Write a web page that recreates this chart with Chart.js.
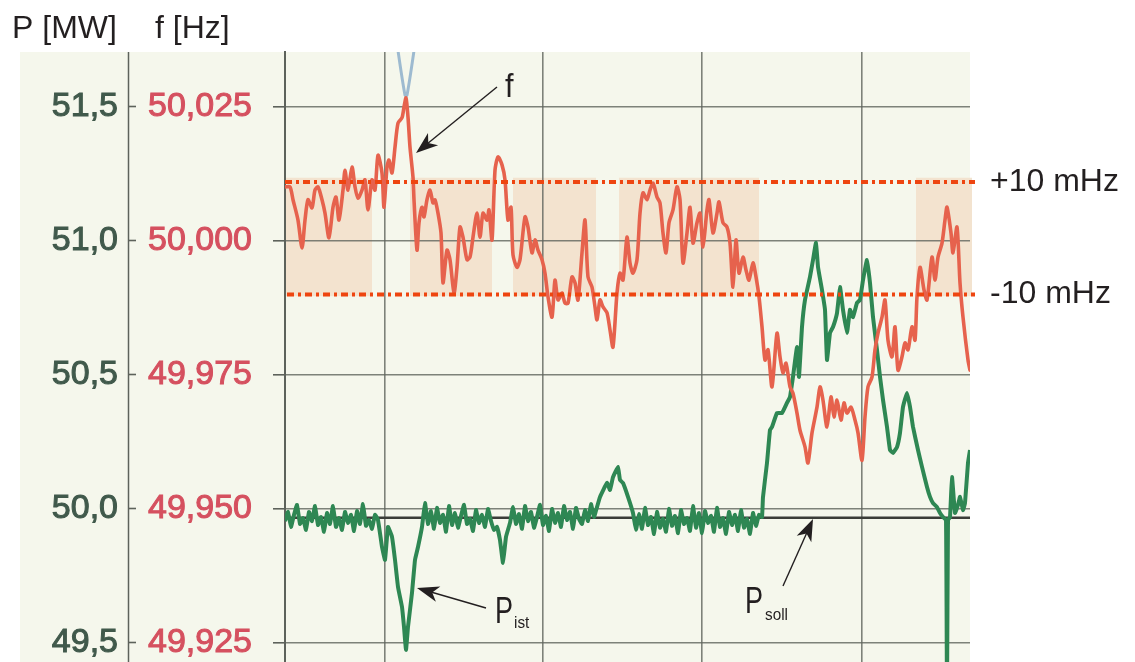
<!DOCTYPE html>
<html>
<head>
<meta charset="utf-8">
<script src="https://cdn.jsdelivr.net/npm/chart.js@4.4.1/dist/chart.umd.min.js"></script>
<style>
  html, body { margin: 0; padding: 0; background: #ffffff; }
  #wrap { width: 1135px; height: 662px; }
</style>
</head>
<body>
<div id="wrap"><canvas id="c" width="1135" height="662"></canvas></div>
<script>
// ---------- data (time in chart units, f in Hz, P in MW) ----------
const freqTrace = [[0,50.0101],[5,50.0101],[8,50.0077],[13,50.0039],[17,49.9987],[20,50.0039],[23,50.0077],[27,50.0062],[30,50.0095],[33,50.0101],[37,50.0077],[40,50.0052],[44,50.0006],[48,50.0063],[51,50.0082],[54,50.0039],[58,50.0095],[60,50.0132],[63,50.0095],[67,50.0138],[70,50.0101],[73,50.0080],[77,50.0095],[80,50.0114],[83,50.0058],[87,50.0114],[90,50.0095],[93,50.0160],[97,50.0127],[99,50.0063],[102,50.0138],[104,50.0151],[107,50.0127],[110,50.0175],[113,50.0220],[117,50.0230],[119,50.0250],[121,50.0267],[123,50.0231],[125,50.0175],[128,50.0119],[129,50.0077],[132,49.9983],[134,50.0034],[137,50.0063],[139,50.0045],[142,50.0077],[145,50.0095],[148,50.0071],[150,50.0077],[153,50.0052],[156,50.0015],[158,49.9922],[162,49.9983],[165,49.9965],[169,49.9903],[172,49.9951],[175,50.0026],[178,50.0007],[182,49.9965],[185,49.9970],[188,50.0007],[192,50.0052],[195,50.0007],[198,50.0052],[202,50.0039],[204,50.0058],[207,50.0002],[210,50.0132],[213,50.0157],[217,50.0142],[220,50.0114],[223,50.0039],[226,50.0063],[228,49.9974],[232,49.9951],[235,49.9965],[240,50.0045],[243,50.0026],[247,49.9978],[250,50.0002],[253,49.9983],[257,49.9965],[260,49.9940],[263,49.9896],[267,49.9858],[270,49.9927],[273,49.9890],[277,49.9903],[280,49.9884],[283,49.9884],[287,49.9933],[290,49.9922],[293,49.9890],[297,49.9978],[300,50.0039],[303,49.9933],[307,49.9914],[310,49.9877],[312,49.9853],[315,49.9890],[318,49.9877],[322,49.9866],[325,49.9834],[328,49.9802],[332,49.9903],[335,49.9940],[338,49.9927],[342,50.0007],[345,49.9959],[348,49.9940],[352,49.9965],[355,50.0052],[358,50.0090],[362,50.0077],[365,50.0095],[368,50.0108],[372,50.0082],[375,50.0071],[378,50.0015],[381,49.9978],[384,50.0034],[388,50.0058],[392,50.0101],[395,50.0077],[398,49.9959],[402,50.0015],[405,50.0063],[408,49.9996],[412,50.0034],[415,50.0052],[418,49.9989],[422,50.0058],[424,50.0077],[428,50.0015],[432,50.0052],[434,50.0073],[438,50.0034],[442,50.0026],[445,49.9996],[448,49.9914],[451,50.0002],[454,49.9940],[458,49.9970],[461,49.9946],[464,49.9927],[468,49.9959],[471,49.9933],[474,49.9896],[477,49.9840],[480,49.9778],[483,49.9797],[487,49.9728],[492,49.9828],[495,49.9784],[498,49.9754],[501,49.9772],[505,49.9728],[508,49.9716],[512,49.9679],[515,49.9647],[520,49.9616],[523,49.9586],[527,49.9642],[532,49.9690],[535,49.9728],[538,49.9703],[542,49.9653],[546,49.9709],[549,49.9672],[552,49.9703],[556,49.9666],[559,49.9698],[562,49.9679],[566,49.9690],[570,49.9666],[573,49.9642],[577,49.9591],[580,49.9672],[583,49.9728],[587,49.9746],[590,49.9797],[593,49.9828],[597,49.9858],[600,49.9890],[603,49.9815],[607,49.9784],[610,49.9840],[613,49.9759],[617,49.9784],[620,49.9810],[623,49.9797],[627,49.9840],[630,49.9815],[632,49.9896],[635,49.9951],[639,49.9909],[642,49.9890],[647,49.9970],[650,49.9927],[653,49.9970],[657,49.9996],[660,50.0039],[662,50.0063],[666,50.0015],[668,49.9978],[672,50.0026],[675,49.9922],[678,49.9858],[683,49.9778],[685,49.9759]];

const powerTrace = [[0,49.955],[3,49.989],[6,49.933],[9,49.978],[12,50.015],[15,49.944],[18,49.966],[21,49.922],[24,49.989],[27,49.955],[30,50.011],[33,49.940],[36,49.970],[39,49.915],[42,49.985],[45,49.944],[48,50.011],[51,49.933],[54,49.966],[57,49.922],[60,49.989],[63,49.948],[66,49.978],[69,49.918],[72,49.992],[75,49.944],[78,50.018],[81,49.937],[84,49.959],[87,49.926],[90,49.978],[93,49.959],[97,49.858],[100,49.810],[103,49.933],[107,49.896],[110,49.810],[113,49.709],[117,49.634],[119,49.560],[121,49.474],[123,49.560],[127,49.687],[130,49.810],[133,49.858],[137,49.933],[140,50.022],[143,49.944],[146,49.992],[149,49.926],[152,50.004],[155,49.948],[158,49.978],[161,49.915],[164,50.011],[167,49.940],[170,49.985],[173,49.930],[176,49.974],[179,50.015],[182,49.944],[185,49.963],[188,49.918],[191,49.996],[194,49.948],[197,49.978],[200,49.933],[203,50.000],[206,49.955],[209,49.922],[212,49.933],[215,49.884],[218,49.799],[221,49.896],[225,49.948],[228,50.007],[231,49.944],[234,49.981],[237,49.926],[240,50.011],[243,49.955],[246,49.989],[249,49.930],[252,49.970],[255,50.015],[258,49.940],[261,49.974],[264,49.918],[267,50.000],[270,49.948],[273,49.985],[276,49.933],[279,50.011],[282,49.959],[285,49.989],[288,49.926],[291,50.004],[294,49.963],[297,49.944],[300,49.996],[303,49.955],[306,50.018],[309,49.970],[312,50.007],[315,50.045],[322,50.097],[325,50.071],[328,50.119],[333,50.157],[335,50.108],[338,50.097],[343,50.045],[348,49.985],[351,49.922],[354,49.981],[357,49.926],[360,50.004],[363,49.940],[366,49.970],[369,49.907],[372,49.989],[375,49.930],[378,49.963],[381,49.915],[384,50.000],[387,49.937],[390,49.974],[393,49.910],[396,49.996],[399,49.944],[402,49.966],[405,49.918],[408,50.011],[411,49.930],[414,49.985],[417,49.910],[420,49.992],[423,49.948],[426,49.974],[429,49.915],[432,50.004],[435,49.933],[438,49.966],[441,49.907],[444,49.989],[447,49.940],[450,49.978],[453,49.918],[456,49.996],[459,49.930],[462,49.963],[465,49.907],[468,49.985],[471,49.937],[474,49.978],[477,49.970],[478,50.045],[482,50.172],[485,50.295],[487,50.306],[492,50.358],[497,50.358],[502,50.396],[505,50.418],[508,50.493],[512,50.604],[514,50.493],[517,50.679],[520,50.780],[525,50.866],[528,50.929],[531,50.993],[533,50.903],[537,50.817],[540,50.743],[542,50.556],[545,50.657],[548,50.679],[552,50.731],[555,50.828],[558,50.743],[562,50.657],[565,50.743],[568,50.716],[572,50.769],[575,50.780],[578,50.854],[582,50.929],[585,50.843],[588,50.716],[592,50.593],[595,50.493],[598,50.407],[602,50.306],[605,50.220],[608,50.209],[612,50.231],[615,50.284],[618,50.381],[622,50.433],[625,50.381],[628,50.306],[633,50.220],[637,50.157],[642,50.082],[645,50.045],[648,50.022],[652,50.007],[655,49.985],[658,49.970],[661,49.959],[662,49.300],[663,49.959],[665,49.970],[667,50.119],[670,49.985],[673,50.015],[675,50.045],[678,49.996],[680,50.022],[683,50.172],[685,50.220]];

const blueTrace = [[111,50.0380],[120,50.0272],[122,50.0272],[131,50.0380]];
const pSoll = [[0,49.967],[685,49.967]];

const fTicks = [49.925, 49.950, 49.975, 50.000, 50.025];
const pTicks = [49.5, 50.0, 50.5, 51.0, 51.5];
const bandLimits = [50.011, 49.990];
const bandLabels = ['+10 mHz', '-10 mHz'];
const bandStart = [0, 125, 228, 334, 631];
const bandEnd   = [87, 207, 311, 474, 687];
const bandTop = 50.0118, bandBottom = 49.9897;
const gridTimes = [100, 258, 417, 577];
const tMin = 0, tMax = 685;
const pMin = 49.429, pMax = 51.705;
const fMin = 49.92146, fMax = 50.03526;

// ---------- drawing ----------
const FONT = "'Liberation Sans', Arial, sans-serif";
const GRID = 'rgba(95,100,92,0.8)';

function arrow(ctx, x0, y0, x1, y1) {
  const a = Math.atan2(y1 - y0, x1 - x0), L = 22, W = 8;
  const c = Math.cos(a), s = Math.sin(a);
  ctx.beginPath(); ctx.moveTo(x0, y0); ctx.lineTo(x1 - L * 0.7 * c, y1 - L * 0.7 * s);
  ctx.lineWidth = 1.4; ctx.stroke();
  ctx.beginPath();
  ctx.moveTo(x1, y1);
  ctx.lineTo(x1 - L * c + W * s, y1 - L * s - W * c);
  ctx.lineTo(x1 - L * 0.72 * c, y1 - L * 0.72 * s);
  ctx.lineTo(x1 - L * c - W * s, y1 - L * s + W * c);
  ctx.closePath(); ctx.fill();
}
function narrowText(ctx, txt, x, y, size, sx) {
  ctx.save(); ctx.translate(x, y); ctx.scale(sx, 1);
  ctx.font = size + 'px ' + FONT; ctx.fillText(txt, 0, 0); ctx.restore();
}

const decor = {
  id: 'decor',
  beforeDraw(chart) {
    const ctx = chart.ctx, xs = chart.scales.x, yF = chart.scales.yF;
    ctx.save();
    ctx.fillStyle = '#ffffff'; ctx.fillRect(0, 0, chart.width, chart.height);
    ctx.fillStyle = '#f5f7ec'; ctx.fillRect(20, 52, 950, 610);
    ctx.fillStyle = '#f3e3cf';
    const top = yF.getPixelForValue(bandTop), bot = yF.getPixelForValue(bandBottom);
    bandStart.forEach((s, i) => {
      const x0 = xs.getPixelForValue(s), x1 = xs.getPixelForValue(bandEnd[i]);
      ctx.fillRect(x0, top, x1 - x0, bot - top);
    });
    ctx.strokeStyle = '#5d625b'; ctx.lineWidth = 1.5;
    ctx.beginPath(); ctx.moveTo(128.5, 52); ctx.lineTo(128.5, 662); ctx.stroke();
    ctx.restore();
  },
  afterDraw(chart) {
    const ctx = chart.ctx;
    ctx.save();
    ctx.fillStyle = '#231f20'; ctx.strokeStyle = '#231f20';
    ctx.textBaseline = 'alphabetic'; ctx.textAlign = 'left';
    ctx.font = '32px ' + FONT;
    ctx.fillText('P [MW]', 12, 38);
    ctx.fillText('f [Hz]', 155, 38);
    narrowText(ctx, 'f', 505, 97, 34, 0.9);
    arrow(ctx, 497, 87, 416, 153);
    narrowText(ctx, 'P', 495, 623, 36, 0.75);
    narrowText(ctx, 'ist', 514, 628, 17, 0.9);
    arrow(ctx, 486, 608, 417, 588);
    narrowText(ctx, 'P', 745, 613, 36, 0.75);
    narrowText(ctx, 'soll', 765, 620, 17, 0.9);
    arrow(ctx, 783, 586, 813, 519);
    ctx.restore();
  }
};

const pts = arr => arr.map(p => ({x: p[0], y: p[1]}));
const fixedTicks = list => (scale) => { scale.ticks = list.map(v => ({value: v})); };

new Chart(document.getElementById('c'), {
  type: 'line',
  data: {
    datasets: [
      { label: '+10 mHz', data: pts([[0, bandLimits[0]], [690, bandLimits[0]]]), yAxisID: 'yF',
        borderColor: '#ee4510', borderWidth: 4, borderDash: [7, 4, 3, 4], pointRadius: 0, clip: false, order: 0 },
      { label: '-10 mHz', data: pts([[2, bandLimits[1]], [690, bandLimits[1]]]), yAxisID: 'yF',
        borderColor: '#ee4510', borderWidth: 4, borderDash: [7, 4, 3, 4], pointRadius: 0, clip: false, order: 0 },
      { label: 'f', data: pts(freqTrace), yAxisID: 'yF', borderColor: '#e6624d', borderWidth: 3.6,
        tension: 0.25, pointRadius: 0, borderJoinStyle: 'round', borderCapStyle: 'round', order: 1 },
      { label: 'blue', data: pts(blueTrace), yAxisID: 'yF', borderColor: '#9dbad0', borderWidth: 3,
        tension: 0.3, pointRadius: 0, order: 2 },
      { label: 'P_ist', data: pts(powerTrace), yAxisID: 'yP', borderColor: '#2e8753', borderWidth: 4,
        tension: 0.1, pointRadius: 0, borderJoinStyle: 'round', order: 3 },
      { label: 'P_soll', data: pts(pSoll), yAxisID: 'yP', borderColor: '#3b3d38', borderWidth: 2.4,
        pointRadius: 0, order: 4 }
    ]
  },
  options: {
    responsive: false, animation: false, devicePixelRatio: 1,
    layout: { padding: { top: 52, left: 0, right: 0, bottom: 0 } },
    plugins: { legend: { display: false }, tooltip: { enabled: false } },
    scales: {
      x: {
        type: 'linear', min: tMin, max: tMax, position: 'bottom',
        ticks: { display: false },
        grid: { color: GRID, lineWidth: 1.6, drawTicks: false },
        border: { display: false },
        afterBuildTicks: fixedTicks(gridTimes),
        afterFit: s => { s.height = 0; s.paddingLeft = 0; s.paddingRight = 0; }
      },
      yF: {
        type: 'linear', position: 'left', weight: 0, min: fMin, max: fMax,
        afterBuildTicks: fixedTicks(fTicks),
        ticks: { color: '#d5505f', font: { family: FONT, size: 34 }, padding: 21,
                 textStrokeColor: '#d5505f', textStrokeWidth: 1,
                 callback: v => v.toFixed(3).replace('.', ',') },
        grid: { color: GRID, lineWidth: 1.6, tickLength: 12, tickColor: '#5d625b', tickWidth: 1.6 },
        border: { display: true, color: '#5d625b', width: 2 },
        afterFit: s => { s.width = 149; s.paddingTop = 0; s.paddingBottom = 0; }
      },
      yP: {
        type: 'linear', position: 'left', weight: 1, min: pMin, max: pMax,
        afterBuildTicks: fixedTicks(pTicks),
        ticks: { color: '#40594b', font: { family: FONT, size: 34 }, padding: 10,
                 textStrokeColor: '#40594b', textStrokeWidth: 1,
                 callback: v => v.toFixed(1).replace('.', ',') },
        grid: { drawOnChartArea: false, tickLength: 8, tickColor: '#5d625b', tickWidth: 1.6 },
        border: { display: false },
        afterFit: s => { s.width = 136; s.paddingTop = 0; s.paddingBottom = 0; }
      },
      yR: {
        type: 'linear', position: 'right', min: fMin, max: fMax,
        afterBuildTicks: fixedTicks(bandLimits),
        ticks: { color: '#231f20', font: { family: FONT, size: 32 }, padding: 20,
                 callback: v => bandLabels[bandLimits.indexOf(v)] },
        grid: { display: false, drawTicks: false },
        border: { display: false },
        afterFit: s => { s.width = 165; s.paddingTop = 0; s.paddingBottom = 0; }
      }
    }
  },
  plugins: [decor]
});
</script>
</body>
</html>
